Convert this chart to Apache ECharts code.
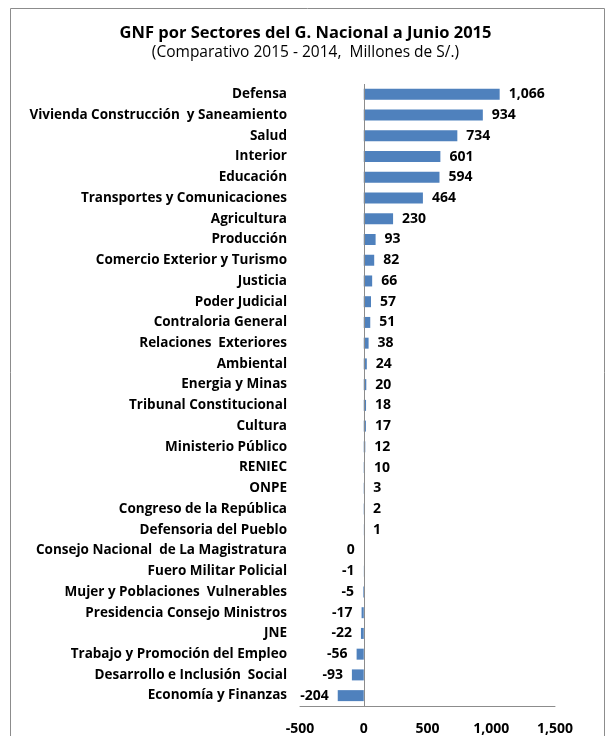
<!DOCTYPE html>
<html>
<head>
<meta charset="utf-8">
<script src="https://cdn.jsdelivr.net/npm/echarts@6/dist/echarts.min.js"></script>
<style>
  html, body { margin: 0; padding: 0; background: #fff; }
  #chart { width: 611px; height: 736px; }
</style>
</head>
<body>
<div id="chart"></div>
<script>
// sectores (de arriba hacia abajo)
const sectores = [
  'Defensa', 'Vivienda Construcción  y Saneamiento', 'Salud', 'Interior', 'Educación',
  'Transportes y Comunicaciones', 'Agricultura', 'Producción', 'Comercio Exterior y Turismo',
  'Justicia', 'Poder Judicial', 'Contraloria General', 'Relaciones  Exteriores', 'Ambiental',
  'Energia y Minas', 'Tribunal Constitucional', 'Cultura', 'Ministerio Público', 'RENIEC',
  'ONPE', 'Congreso de la República', 'Defensoria del Pueblo',
  'Consejo Nacional  de La Magistratura', 'Fuero Militar Policial',
  'Mujer y Poblaciones  Vulnerables', 'Presidencia Consejo Ministros', 'JNE',
  'Trabajo y Promoción del Empleo', 'Desarrollo e Inclusión  Social', 'Economía y Finanzas'
]
// variación 2015 - 2014, millones de S/.
const variacion = [
  1066, 934, 734, 601, 594, 464, 230, 93, 82, 66, 57, 51, 38, 24, 20, 18, 17, 12, 10,
  3, 2, 1, 0, -1, -5, -17, -22, -56, -93, -204
]
const xMin = -500
const xMax = 1500
const xPaso = 500

const fmt = v => v.toLocaleString('en-US')
const fuente = '"Open Sans", sans-serif'

const chart = echarts.init(document.getElementById('chart'))
chart.setOption({
  animation: false,
  textStyle: { fontFamily: fuente },
  title: {
    text: 'GNF por Sectores del G. Nacional a Junio 2015',
    subtext: '(Comparativo 2015 - 2014,  Millones de S/.)',
    left: 'center',
    top: 20,
    itemGap: 3,
    textStyle: { fontFamily: fuente, fontSize: 16.5, fontWeight: 'bold', color: '#000' },
    subtextStyle: { fontFamily: fuente, fontSize: 15.5, color: '#000' }
  },
  // borde del área del gráfico
  graphic: [{
    type: 'rect',
    shape: { x: 10.5, y: 8.5, width: 594, height: 740 },
    style: { fill: 'none', stroke: '#8c8c8c', lineWidth: 1 },
    silent: true
  }],
  grid: { left: 300, right: 56, top: 84, bottom: 30 },
  xAxis: {
    type: 'value',
    min: xMin,
    max: xMax,
    interval: xPaso,
    splitLine: { show: false },
    axisTick: { show: false },
    axisLine: { show: true, lineStyle: { color: '#8c8c8c' } },
    axisLabel: {
      margin: 16,
      fontSize: 14,
      fontWeight: 'bold',
      color: '#000',
      fontFamily: fuente,
      formatter: v => fmt(v)
    }
  },
  yAxis: {
    type: 'category',
    data: sectores,
    inverse: true,
    axisLine: { show: false },
    axisTick: { show: false },
    axisLabel: {
      margin: 13,
      fontSize: 13.5,
      fontWeight: 'bold',
      color: '#000',
      fontFamily: fuente
    }
  },
  series: [{
    type: 'bar',
    barCategoryGap: '47%',
    itemStyle: { color: '#4F81BD' },
    data: variacion.map(v => ({
      value: v,
      label: { position: v > 0 ? 'right' : 'left' }
    })),
    label: {
      show: true,
      distance: 9,
      fontSize: 14,
      fontWeight: 'bold',
      color: '#000',
      fontFamily: fuente,
      formatter: p => fmt(p.value)
    },
    markLine: {
      silent: true,
      symbol: 'none',
      label: { show: false },
      lineStyle: { color: '#8c8c8c', type: 'solid', width: 1 },
      data: [{ xAxis: 0 }]
    }
  }]
})
</script>
</body>
</html>
